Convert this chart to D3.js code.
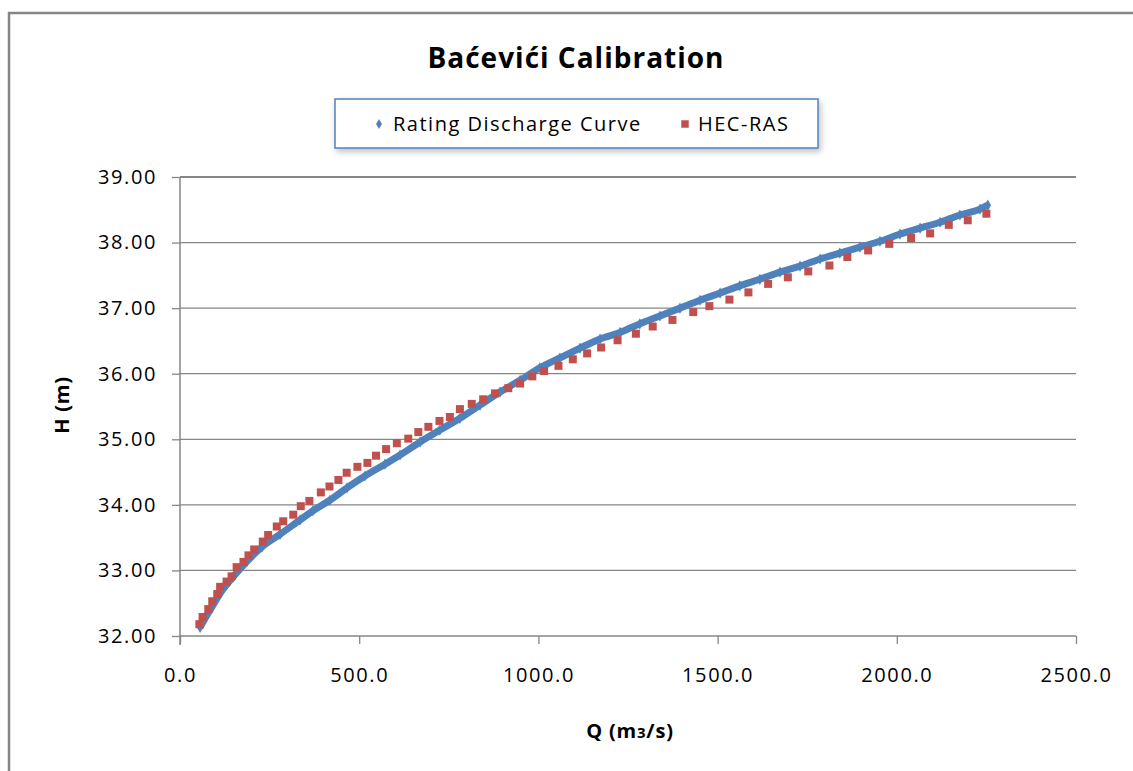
<!DOCTYPE html>
<html>
<head>
<meta charset="utf-8">
<script src="https://cdn.jsdelivr.net/npm/d3@7"></script>
<style>
  body { margin: 0; background: #fff; }
  text { font-family: "Open Sans", Lato, sans-serif; }
</style>
</head>
<body>
<div id="chart"></div>
<script>
// Rating Discharge Curve
const ratingQ = [56, 70, 92, 117, 148, 187, 229, 279, 335, 371, 418, 466, 516, 572, 614, 670, 725, 781, 837, 893,
  949, 1004, 1060, 1116, 1172, 1228, 1283, 1339, 1395, 1451, 1507, 1562, 1618, 1674, 1730, 1786, 1841, 1897, 1953,
  2009, 2065, 2121, 2176, 2232, 2254];
const ratingH = [32.13, 32.27, 32.47, 32.69, 32.90, 33.14, 33.36, 33.55, 33.77, 33.91, 34.07, 34.26, 34.44, 34.62, 34.76,
  34.96, 35.14, 35.32, 35.52, 35.72, 35.90, 36.09, 36.24, 36.39, 36.53, 36.63, 36.76, 36.88, 37.00, 37.12, 37.23,
  37.34, 37.44, 37.55, 37.64, 37.75, 37.84, 37.93, 38.02, 38.13, 38.22, 38.31, 38.42, 38.51, 38.57];

// HEC-RAS results
const hecQ = [54, 63, 79, 90, 104, 112, 130, 144, 158, 177, 191, 207, 231, 246, 270, 288, 316, 337, 361, 393, 417, 442,
  465, 495, 523, 547, 575, 605, 637, 665, 693, 724, 753, 781, 814, 846, 879, 916, 949, 983, 1016, 1056, 1096, 1136,
  1175, 1221, 1272, 1319, 1374, 1432, 1477, 1533, 1586, 1641, 1696, 1753, 1812, 1862, 1920, 1979, 2040, 2093, 2145,
  2198, 2250];
const hecH = [32.18, 32.29, 32.41, 32.53, 32.64, 32.75, 32.83, 32.91, 33.05, 33.13, 33.23, 33.32, 33.44, 33.54, 33.67,
  33.75, 33.85, 33.98, 34.06, 34.19, 34.28, 34.38, 34.49, 34.58, 34.64, 34.75, 34.85, 34.94, 35.01, 35.11, 35.19,
  35.28, 35.34, 35.46, 35.54, 35.61, 35.70, 35.78, 35.85, 35.96, 36.04, 36.12, 36.22, 36.31, 36.40, 36.51, 36.61,
  36.72, 36.82, 36.94, 37.03, 37.13, 37.24, 37.37, 37.47, 37.56, 37.65, 37.78, 37.88, 37.98, 38.07, 38.14, 38.27,
  38.34, 38.44];

const xTicks = [0, 500, 1000, 1500, 2000, 2500];
const yTicks = [32, 33, 34, 35, 36, 37, 38, 39];

const width = 1133, height = 771;
const margin = { top: 177, right: 57, bottom: 135, left: 180 };

const rating = ratingQ.map((q, i) => ({ q: q, h: ratingH[i] }));
const hec = hecQ.map((q, i) => ({ q: q, h: hecH[i] }));

const svg = d3.select("#chart")
  .append("svg")
  .attr("width", width)
  .attr("height", height);

// outer chart frame (only top and left edges visible)
svg.append("path")
  .attr("d", `M9,${height} V13 H${width}`)
  .attr("fill", "none")
  .attr("stroke", "#868686")
  .attr("stroke-width", 2.5);

const x = d3.scaleLinear()
  .domain([0, 2500])
  .range([margin.left, width - margin.right]);

const y = d3.scaleLinear()
  .domain([32, 39])
  .range([height - margin.bottom, margin.top]);

// gridlines
svg.append("g")
  .selectAll("line")
  .data(yTicks)
  .join("line")
  .attr("x1", margin.left)
  .attr("x2", width - margin.right)
  .attr("y1", d => y(d))
  .attr("y2", d => y(d))
  .attr("stroke", "#868686")
  .attr("stroke-width", d => d === 39 ? 2 : 1.3);

// y axis
const yAxis = svg.append("g")
  .attr("transform", `translate(${margin.left},0)`)
  .call(d3.axisLeft(y).tickValues(yTicks).tickFormat(d3.format(".2f")).tickSize(8).tickPadding(15));
yAxis.select(".domain").attr("stroke", "#868686").attr("stroke-width", 1.5)
  .attr("d", `M0,${y(39)}V${y(32) + 9}`);
yAxis.selectAll(".tick line").attr("stroke", "#868686").attr("stroke-width", 1.3);
yAxis.selectAll(".tick text").attr("font-size", 20).attr("fill", "#000")
  .attr("letter-spacing", 1.6)
  .style("font-family", "'Open Sans', sans-serif");

// x axis
const xAxis = svg.append("g")
  .attr("transform", `translate(0,${y(32)})`)
  .call(d3.axisBottom(x).tickValues(xTicks).tickFormat(d3.format(".1f")).tickSize(8).tickPadding(24));
xAxis.select(".domain").remove();
xAxis.selectAll(".tick line").attr("stroke", "#868686").attr("stroke-width", 1.3);
xAxis.selectAll(".tick text").attr("font-size", 20).attr("fill", "#000")
  .attr("letter-spacing", 1.6)
  .style("font-family", "'Open Sans', sans-serif");

// rating curve: thick band + diamonds
svg.append("path")
  .datum(rating)
  .attr("fill", "none")
  .attr("stroke", "#4f81bd")
  .attr("stroke-width", 7)
  .attr("d", d3.line().x(d => x(d.q)).y(d => y(d.h)).curve(d3.curveMonotoneX));

const diamond = d3.symbol().type(d3.symbolDiamond).size(36);
svg.append("g")
  .selectAll("path")
  .data(rating)
  .join("path")
  .attr("d", diamond)
  .attr("transform", d => `translate(${x(d.q)},${y(d.h)})`)
  .attr("fill", "#4f81bd");

// HEC-RAS squares
const sq = 8;
svg.append("g")
  .selectAll("rect")
  .data(hec)
  .join("rect")
  .attr("x", d => x(d.q) - sq / 2)
  .attr("y", d => y(d.h) - sq / 2)
  .attr("width", sq)
  .attr("height", sq)
  .attr("fill", "#c0504d");

// title
svg.append("text")
  .attr("x", 576)
  .attr("y", 68)
  .attr("text-anchor", "middle")
  .attr("font-size", 28)
  .attr("font-weight", "bold")
  .attr("letter-spacing", 1)
  .text("Baćevići Calibration");

// legend
const defs = svg.append("defs");
const f = defs.append("filter").attr("id", "shadow").attr("x", "-5%").attr("y", "-20%").attr("width", "110%").attr("height", "150%");
f.append("feDropShadow").attr("dx", 2).attr("dy", 3).attr("stdDeviation", 3).attr("flood-color", "#000").attr("flood-opacity", 0.25);

svg.append("rect")
  .attr("x", 335)
  .attr("y", 99)
  .attr("width", 483)
  .attr("height", 49)
  .attr("fill", "#fff")
  .attr("stroke", "#4f81bd")
  .attr("stroke-width", 1.5)
  .attr("filter", "url(#shadow)");

const legendItems = [
  { label: "Rating Discharge Curve", color: "#4f81bd", shape: "diamond", mx: 379, tx: 393 },
  { label: "HEC-RAS", color: "#c0504d", shape: "square", mx: 685, tx: 698 }
];
const lg = svg.append("g").selectAll("g").data(legendItems).join("g");
lg.append("path")
  .attr("d", d => d.shape === "diamond" ? d3.symbol().type(d3.symbolDiamond).size(30)() : d3.symbol().type(d3.symbolSquare).size(56)())
  .attr("transform", d => `translate(${d.mx},124)`)
  .attr("fill", d => d.color);
lg.append("text")
  .attr("x", d => d.tx)
  .attr("y", 131)
  .attr("font-size", 20)
  .attr("letter-spacing", 1.5)
  .text(d => d.label);

// axis titles
svg.append("text")
  .attr("transform", "translate(69,405) rotate(-90)")
  .attr("text-anchor", "middle")
  .attr("font-size", 20)
  .attr("font-weight", "bold")
  .attr("letter-spacing", 0.8)
  .text("H (m)");

const xt = svg.append("text")
  .attr("x", 630)
  .attr("y", 738)
  .attr("text-anchor", "middle")
  .attr("font-size", 20)
  .attr("font-weight", "bold")
  .attr("letter-spacing", 0.8);
xt.append("tspan").text("Q (m");
xt.append("tspan").attr("font-size", 15).text("3");
xt.append("tspan").text("/s)");
</script>
</body>
</html>
